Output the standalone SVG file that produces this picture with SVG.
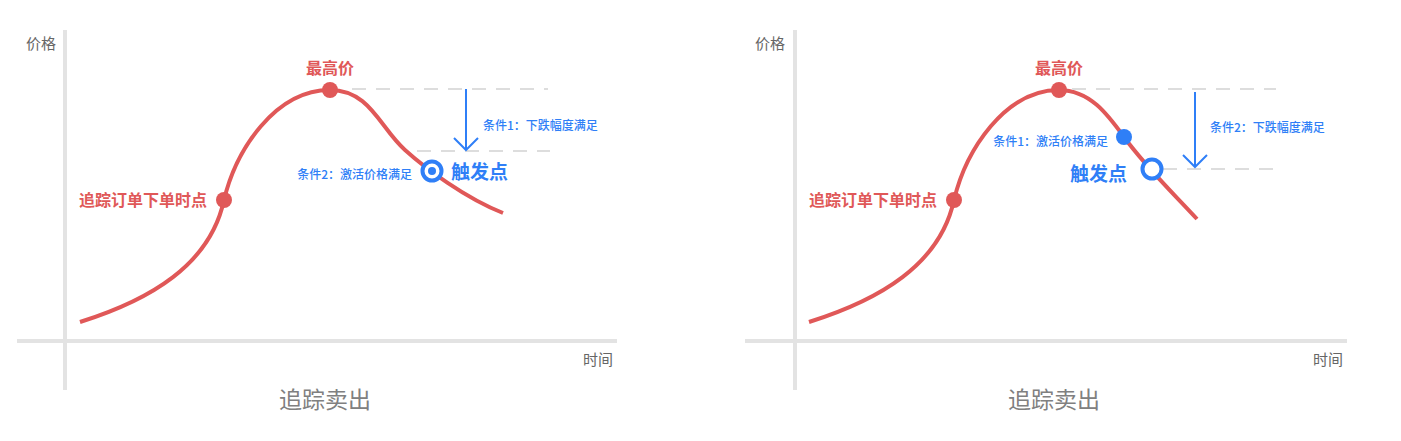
<svg xmlns="http://www.w3.org/2000/svg" width="1401" height="441" viewBox="0 0 1401 441">
<style>
text{font-family:"Noto Sans CJK SC","Noto Sans",sans-serif;dominant-baseline:central}
.axis{stroke:#e3e3e3;stroke-width:4;fill:none}
.axlbl{font-size:15px;fill:#666}
.title{font-size:23px;fill:#808080;text-anchor:middle}
.curve{stroke:#e05858;stroke-width:4;fill:none;stroke-linecap:butt}
.red{fill:#e05858;font-size:16px;font-weight:bold}
.dot{fill:#e05858}
.dash{stroke:#dddddd;stroke-width:2;stroke-dasharray:14 10;fill:none}
.arrow{stroke:#2f7ff7;stroke-width:2;fill:none}
.cond{fill:#2f7ff7;font-size:12px;font-weight:500}
.trig{fill:#2f7ff7;font-size:19px;font-weight:bold}
.ring{fill:#fff;stroke:#2f7ff7;stroke-width:4}
.bdot{fill:#2f7ff7}
</style>
<g id="axes-left">
<line class="axis" x1="65" y1="30" x2="65" y2="390"/>
<line class="axis" x1="17" y1="341" x2="617" y2="341"/>
<text class="axlbl" x="26" y="42">价格</text>
<text class="axlbl" x="583" y="358">时间</text>
<text class="title" x="325" y="398">追踪卖出</text>
</g>
<g id="axes-right">
<line class="axis" x1="795" y1="30" x2="795" y2="390"/>
<line class="axis" x1="745" y1="341" x2="1347" y2="341"/>
<text class="axlbl" x="755" y="42">价格</text>
<text class="axlbl" x="1313" y="358">时间</text>
<text class="title" x="1054" y="398">追踪卖出</text>
</g>
<g id="connectors">
<path class="curve" d="M80,322 C150,300 210,265 224,200 C236,150 275,90 330,90 C370,90 380,128 405,150 C425,168 465,198 503,213"/>
<path class="curve" d="M809,322 C879,300 940,265 954,200 C966,150 1005,90 1059,90 C1090,90 1108,115 1124,137 C1145,166 1170,190 1197,219"/>
<line class="dash" x1="352" y1="89" x2="548" y2="89"/>
<line class="dash" x1="417" y1="151" x2="550" y2="151"/>
<line class="arrow" x1="466" y1="89" x2="466" y2="150"/>
<polyline class="arrow" points="454,138 466,150 478,138"/>
<line class="dash" x1="1072" y1="89" x2="1276" y2="89"/>
<line class="dash" x1="1163" y1="169" x2="1276" y2="169"/>
<line class="arrow" x1="1195" y1="92" x2="1195" y2="167"/>
<polyline class="arrow" points="1183,155 1195,167 1207,155"/>
</g>
<g id="order-left">
<circle class="dot" cx="224" cy="200" r="8"/>
<text class="red" x="207" y="199" text-anchor="end">追踪订单下单时点</text>
</g>
<g id="peak-left">
<circle class="dot" cx="330" cy="90" r="8"/>
<text class="red" x="330" y="67" text-anchor="middle">最高价</text>
</g>
<g id="cond1-left">
<text class="cond" x="483" y="124">条件1：下跌幅度满足</text>
</g>
<g id="trigger-left">
<circle class="ring" cx="432" cy="171" r="9.5"/>
<circle class="bdot" cx="432" cy="171" r="4"/>
<text class="cond" x="412" y="173" text-anchor="end">条件2：激活价格满足</text>
<text class="trig" x="451" y="170">触发点</text>
</g>
<g id="order-right">
<circle class="dot" cx="954" cy="200" r="8"/>
<text class="red" x="937" y="199" text-anchor="end">追踪订单下单时点</text>
</g>
<g id="peak-right">
<circle class="dot" cx="1059" cy="90" r="8"/>
<text class="red" x="1059" y="67" text-anchor="middle">最高价</text>
</g>
<g id="cond1-right">
<circle class="bdot" cx="1124" cy="137" r="8"/>
<text class="cond" x="1108" y="140" text-anchor="end">条件1：激活价格满足</text>
</g>
<g id="cond2-right">
<text class="cond" x="1210" y="126">条件2：下跌幅度满足</text>
</g>
<g id="trigger-right">
<circle class="ring" cx="1152" cy="169" r="9.5"/>
<text class="trig" x="1127" y="172" text-anchor="end">触发点</text>
</g>
</svg>
